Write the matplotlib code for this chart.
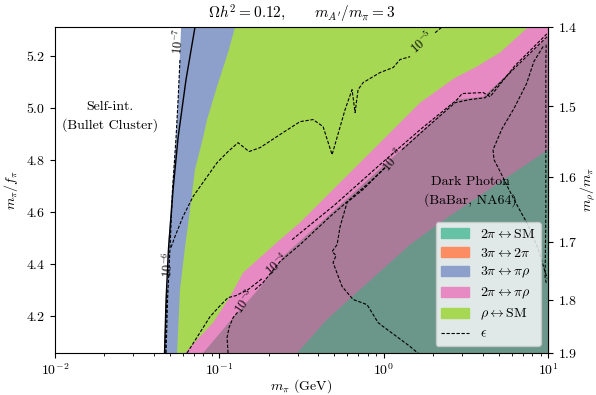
import numpy as np
import matplotlib.pyplot as plt
from matplotlib.patches import Patch
from matplotlib.lines import Line2D

plt.rcParams['font.family'] = 'serif'
plt.rcParams['font.serif'] = ['cmr10']
plt.rcParams['mathtext.fontset'] = 'cm'
plt.rcParams['axes.formatter.use_mathtext'] = True
plt.rcParams['font.size'] = 10

nan = np.nan

# plot ranges
m_lo, m_hi = 1e-2, 1e1
p_lo, p_hi = 4.056, 5.310

# region edges, (m_pi [GeV], m_pi/f_pi)
selfint_m = [0.0460, 0.0474, 0.0487, 0.0515, 0.0545, 0.0568, 0.0585]
selfint_p = [4.056, 4.262, 4.462, 4.685, 4.885, 5.108, 5.310]

rhosm_m = [0.0553, 0.0576, 0.0618, 0.0663, 0.0711, 0.0796, 0.0842, 0.0968, 0.1130, 0.1246]
rhosm_p = [4.056, 4.300, 4.462, 4.608, 4.762, 4.885, 4.954, 5.081, 5.212, 5.310]

pirho_m = [0.0618, 0.0915, 0.1162, 0.1394, 0.2341, 0.3098, 0.5428, 0.9508, 1.666, 2.721, 3.601, 5.111, 7.567]
pirho_p = [4.056, 4.173, 4.273, 4.365, 4.492, 4.558, 4.712, 4.865, 5.019, 5.115, 5.154, 5.212, 5.310]

sm_m = [0.2971, 0.4521, 0.7184, 1.448, 2.204, 10.0]
sm_p = [4.056, 4.185, 4.300, 4.473, 4.558, 4.838]

darkph_m = [0.0796, 0.1212, 0.1769, 0.2512, 0.5061, 0.9508, 1.666, 2.798, 4.027, 6.306, 10.0]
darkph_p = [4.056, 4.192, 4.308, 4.435, 4.608, 4.765, 4.904, 5.031, 5.042, 5.154, 5.273]

# bullet cluster bound (solid)
bullet_m = [0.0464, 0.0474, 0.0491, 0.0523, 0.0561, 0.0627, 0.0711]
bullet_p = [4.056, 4.262, 4.462, 4.685, 4.885, 5.108, 5.310]

# epsilon contours (nan = gap for the label)
eps7_m = [0.0474, 0.0484, 0.0501, 0.0519, 0.0545, 0.0561, 0.0576]
eps7_p = [4.056, 4.262, 4.462, 4.685, 4.885, 5.031, 5.185]

eps6_m = [0.0467, 0.0474, 0.0480, nan, 0.0508, 0.0537, 0.0601, 0.0692, 0.0818, 0.0968, 0.1130,
          0.1300, 0.1516, 0.1769, 0.2442, 0.3098, 0.3716, 0.4277, 0.4852, 0.5821, 0.6421,
          0.6697, 0.6984, 0.7491, 0.9508, 1.141, 1.258, 1.448, nan, 2.056, 2.364]
eps6_p = [4.056, 4.185, 4.300, nan, 4.462, 4.504, 4.581, 4.658, 4.723, 4.788, 4.831,
          4.865, 4.831, 4.846, 4.904, 4.946, 4.954, 4.927, 4.819, 4.992, 5.069,
          4.981, 5.069, 5.096, 5.135, 5.154, 5.185, 5.196, nan, 5.288, 5.320]

eps4_m = [0.0636, 0.0763, 0.0878, 0.1010, 0.1130, 0.1264, 0.1495, 0.1819, nan, 0.2771,
          0.5061, 0.9508, 1.666, 2.798, 3.001, 4.027, 4.443, 6.306, 10.0]
eps4_p = [4.056, 4.135, 4.196, 4.238, 4.269, 4.277, 4.300, 4.342, nan, 4.492,
          4.627, 4.781, 4.915, 5.031, 5.054, 5.058, 5.042, 5.162, 5.288]

eps3_m = [0.1130, 0.1114, 0.1146, 0.1212, 0.1300, nan, 0.1650, 0.1845, 0.2341, 0.3098,
          0.4719, 0.8263, 1.020, nan, 1.294, 1.916, 2.721, 3.357, 4.142, 6.306, 9.875]
eps3_p = [4.056, 4.115, 4.154, 4.192, 4.215, nan, 4.300, 4.327, 4.408, 4.473,
          4.581, 4.715, 4.769, nan, 4.838, 4.935, 5.019, 5.031, 5.038, 5.154, 5.273]

epsb_m = [1.020, 0.7491, 0.5985, 0.5428, 0.5206, 0.4852, 0.5131, 0.4920, 0.5580, 0.6512,
          0.7924, 0.9245, 0.9917, 1.448, 1.713]
epsb_p = [4.769, 4.685, 4.635, 4.542, 4.473, 4.446, 4.431, 4.404, 4.312, 4.262,
          4.242, 4.173, 4.158, 4.081, 4.042]

epsc_m = [9.339, 8.20, 7.40, 6.20, 5.25, 4.63, 4.69, 5.11, 5.75, 6.50, 7.48, 8.70, 9.875]
epsc_p = [5.235, 5.177, 5.092, 4.996, 4.919, 4.838, 4.800, 4.754, 4.688, 4.623, 4.554, 4.458, 4.342]

epsd_m = [9.74, 9.70, 9.70, 9.60, 9.80]
epsd_p = [5.242, 5.170, 4.600, 4.346, 4.320]

eps_labels = ['$10^{-7}$', '$10^{-6}$', '$10^{-5}$', '$10^{-4}$', '$10^{-3}$', '$10^{-3}$']
eps_lab_m = [0.0568, 0.0487, 1.70, 0.2245, 0.1433, 1.141]
eps_lab_p = [5.254, 4.396, 5.250, 4.396, 4.254, 4.800]
eps_lab_rot = [84, 86, 42, 43, 55, 50]

legend_labels = [r'$2\pi \leftrightarrow \mathrm{SM}$', r'$3\pi \leftrightarrow 2\pi$',
                 r'$3\pi \leftrightarrow \pi\rho$', r'$2\pi \leftrightarrow \pi\rho$',
                 r'$\rho \leftrightarrow \mathrm{SM}$', r'$\epsilon$']
colors = ['#66c2a5', '#fc8d62', '#8da0cb', '#e78ac3', '#a6d854']

# m_rho/m_pi as function of m_pi/f_pi (right axis)
rho_a, rho_b = -0.354, 65.24


def to_rho(p):
    p = np.asarray(p, dtype=float)
    with np.errstate(divide='ignore', invalid='ignore'):
        return np.sqrt(rho_a + rho_b / p**2)


def from_rho(r):
    r = np.asarray(r, dtype=float)
    with np.errstate(divide='ignore', invalid='ignore'):
        return np.sqrt(rho_b / (r**2 - rho_a))


def fill_right(ax, m, p, color, **kw):
    # region to the right of an edge running bottom -> top
    xs = list(m) + [m_hi * 1.01, m_hi * 1.01]
    ys = list(p) + [p[-1], p[0]]
    ax.fill(xs, ys, color=color, lw=0, **kw)


fig = plt.figure(figsize=(5.96, 3.95), dpi=100)
ax = fig.add_axes([0.0923, 0.1063, 0.8272, 0.8253])

fill_right(ax, selfint_m, selfint_p, colors[2], zorder=1)
fill_right(ax, rhosm_m, rhosm_p, colors[4], zorder=1.1)
fill_right(ax, pirho_m, pirho_p, colors[3], zorder=1.2)
fill_right(ax, sm_m, sm_p, colors[0], zorder=1.3)
fill_right(ax, darkph_m, darkph_p, '#6e6e6e', alpha=0.5, zorder=1.4)

ax.plot(bullet_m, bullet_p, color='k', lw=1.0, zorder=3)
ls = dict(color='k', lw=0.8, ls=(0, (3, 1.5)), zorder=3)
for mm, pp in [(eps7_m, eps7_p), (eps6_m, eps6_p), (eps4_m, eps4_p), (eps3_m, eps3_p),
               (epsb_m, epsb_p), (epsc_m, epsc_p), (epsd_m, epsd_p)]:
    ax.plot(mm, pp, **ls)

for t, mm, pp, rot in zip(eps_labels, eps_lab_m, eps_lab_p, eps_lab_rot):
    ax.text(mm, pp, t, rotation=rot, ha='center', va='center', fontsize=9,
            rotation_mode='anchor', clip_on=True, zorder=3)

ax.text(0.1116, 0.727, 'Self-int.\n(Bullet Cluster)', transform=ax.transAxes,
        ha='center', va='center', linespacing=1.5)
ax.text(0.842, 0.497, 'Dark Photon\n(BaBar, NA64)', transform=ax.transAxes,
        ha='center', va='center', linespacing=1.5, zorder=4)

ax.set_xscale('log')
ax.set_xlim(m_lo, m_hi)
ax.set_ylim(p_lo, p_hi)
ax.set_yticks([4.2, 4.4, 4.6, 4.8, 5.0, 5.2])
ax.set_xlabel(r'$m_\pi$ (GeV)', labelpad=-1)
ax.set_ylabel(r'$m_\pi/f_\pi$')
ax.set_title(r'$\Omega h^2 = 0.12, \qquad m_{A^\prime}/m_\pi = 3$', fontsize=11)

sec = ax.secondary_yaxis('right', functions=(to_rho, from_rho))
sec.set_yticks([1.4, 1.5, 1.6, 1.7, 1.8, 1.9])
sec.minorticks_off()
sec.set_ylabel(r'$m_\rho/m_\pi$', labelpad=1)

handles = [Patch(color=c) for c in colors]
handles.append(Line2D([], [], color='k', lw=0.8, ls=(0, (3, 1.5))))
ax.legend(handles, legend_labels, loc='lower right', labelspacing=0.4)

fig.savefig('out.png', dpi=100)
